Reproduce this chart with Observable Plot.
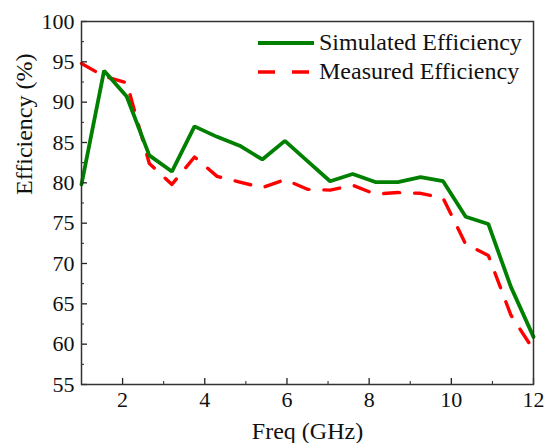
<!DOCTYPE html>
<html>
<head>
<meta charset="utf-8">
<script src="https://cdn.jsdelivr.net/npm/d3@7"></script>
<script src="https://cdn.jsdelivr.net/npm/@observablehq/plot@0.6"></script>
<style>
  html, body { margin: 0; padding: 0; background: #fff; }
  #wrap { position: relative; width: 546px; height: 443px; font-family: "Liberation Serif", "DejaVu Serif", serif; }
  #legend { position: absolute; left: 257px; top: 28px; font-size: 24px; color: #111; line-height: 29px; }
  #legend div { display: flex; align-items: center; white-space: nowrap; }
  #legend svg { margin-right: 4px; }
</style>
</head>
<body>
<div id="wrap"></div>
<script>
const freq = [1, 1.55, 2.1, 2.65, 3.2, 3.75, 4.3, 4.85, 5.4, 5.95, 6.5, 7.05, 7.6, 8.15, 8.7, 9.25, 9.8, 10.35, 10.9, 11.45, 12];
const simulated = [79.8, 93.9, 90.7, 83.4, 81.4, 87.0, 85.7, 84.6, 82.9, 85.2, 82.7, 80.2, 81.1, 80.1, 80.1, 80.7, 80.2, 75.8, 74.9, 67.1, 60.9];
const measured = [94.8, 93.2, 92.4, 82.4, 79.8, 83.2, 80.8, 80.1, 79.4, 80.4, 79.2, 79.1, 79.7, 78.6, 78.8, 78.7, 78.1, 72.4, 71.0, 63.6, 59.3];
const xTicks = [2, 4, 6, 8, 10, 12];
const xMinorTicks = [1, 3, 5, 7, 9, 11];
const yTicks = [55, 60, 65, 70, 75, 80, 85, 90, 95, 100];
const yMinorTicks = [57.5, 62.5, 67.5, 72.5, 77.5, 82.5, 87.5, 92.5, 97.5];
const seriesNames = ["Simulated Efficiency", "Measured Efficiency"];
const xTitle = ["Freq (GHz)"];
const yTitle = ["Efficiency (%)"];

const simData = freq.map((f, i) => ({f, v: simulated[i]}));
const meaData = freq.map((f, i) => ({f, v: measured[i]}));

const chart = Plot.plot({
  width: 546,
  height: 443,
  marginLeft: 81,
  marginRight: 13,
  marginTop: 21,
  marginBottom: 59,
  style: {fontFamily: "Liberation Serif, serif", fontSize: "22px", color: "#111", background: "#fff"},
  x: {domain: [1, 12]},
  y: {domain: [55, 100]},
  marks: [
    Plot.line(meaData, {x: "f", y: "v", stroke: "#ff0000", strokeWidth: 3.4, strokeDasharray: "16,15"}),
    Plot.line(simData, {x: "f", y: "v", stroke: "#008000", strokeWidth: 3.8, strokeLinejoin: "miter"}),
    Plot.axisX(xTicks, {tickSize: -6, stroke: "#222", strokeWidth: 1.3, text: null, label: null}),
    Plot.axisX(xMinorTicks, {tickSize: -3, stroke: "#222", strokeWidth: 1, text: null, label: null}),
    Plot.axisX(xTicks, {tickSize: 0, tickPadding: 7, fontSize: 22, label: null}),
    Plot.axisY(yTicks, {tickSize: -6, stroke: "#222", strokeWidth: 1.3, text: null, label: null}),
    Plot.axisY(yMinorTicks, {tickSize: -3, stroke: "#222", strokeWidth: 1, text: null, label: null}),
    Plot.axisY(yTicks, {tickSize: 0, tickPadding: 7, fontSize: 22, label: null}),
    Plot.text(xTitle, {text: d => d, frameAnchor: "bottom", lineAnchor: "middle", dy: 47, fontSize: 24, fill: "#111"}),
    Plot.text(yTitle, {text: d => d, frameAnchor: "left", rotate: -90, lineAnchor: "middle", dx: -57, dy: -8, fontSize: 24, fill: "#111"}),
    Plot.frame({stroke: "#333", strokeWidth: 1.5})
  ]
});

const wrap = document.getElementById("wrap");
wrap.appendChild(chart);

const legend = document.createElement("div");
legend.id = "legend";
legend.innerHTML = `
  <div><svg width="58" height="10"><line x1="1" y1="5" x2="57" y2="5" stroke="#008000" stroke-width="3.8"/></svg><span>${seriesNames[0]}</span></div>
  <div><svg width="58" height="10"><line x1="1" y1="5" x2="57" y2="5" stroke="#ff0000" stroke-width="3.4" stroke-dasharray="17,17"/></svg><span>${seriesNames[1]}</span></div>`;
wrap.appendChild(legend);
</script>
</body>
</html>
